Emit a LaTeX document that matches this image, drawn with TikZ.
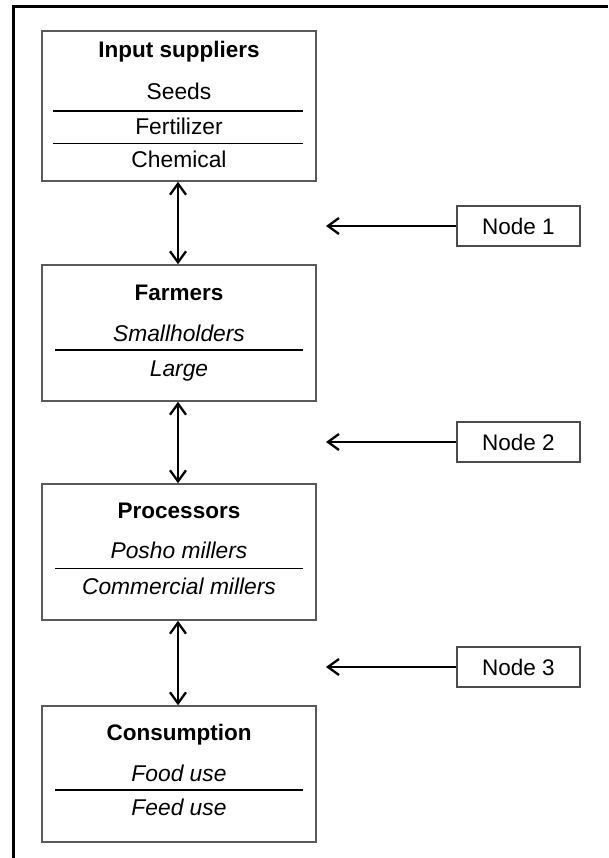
\documentclass[tikz,border=0pt]{standalone}
\usepackage{fontspec}
\setmainfont{Liberation Sans}
\usetikzlibrary{arrows.meta}
\begin{document}
\begin{tikzpicture}[x=1pt,y=-1pt,
  stage/.style={draw=black!65,line width=1.5pt,minimum width=274pt,inner sep=0pt},
  tag/.style={draw=black!70,line width=1.4pt,minimum width=123pt,minimum height=40pt,inner sep=0pt,font=\fontsize{22.5}{26}\selectfont},
  head/.style={anchor=base,font=\fontsize{22.5}{26}\selectfont\bfseries},
  item/.style={anchor=base,font=\fontsize{22.8}{26}\selectfont},
  itemi/.style={anchor=base,font=\fontsize{22.8}{26}\selectfont\itshape},
  heavy/.style={line width=2.5pt},
  light/.style={line width=1pt},
  barb/.tip={Straight Barb[length=11pt,width=16pt,line width=2.3pt]},
  link/.style={line width=2.5pt,barb-barb},
  point/.style={line width=2.5pt,-barb}]
\useasboundingbox (0,0) rectangle (608,858);
% frame
\draw[line width=3pt] (13,858) -- (13,7) -- (608,7);

% stages
\node[stage,minimum height=150pt] (b1) at (179,106) {};
\node[stage,minimum height=136pt] (b2) at (179,333) {};
\node[stage,minimum height=136pt] (b3) at (179,552) {};
\node[stage,minimum height=136pt] (b4) at (179,774) {};

\node[head] (t1) at (179,58) {Input suppliers};
\node[item] (s1a) at (179,100) {Seeds};
\node[item] (s1b) at (179,135) {Fertilizer};
\node[item] (s1c) at (179,168) {Chemical};
\draw[heavy] (53,111) -- (303,111);
\draw[light] (53,144) -- (303,144);

\node[head] (t2) at (179,300) {Farmers};
\node[itemi] (s2a) at (179,341) {Smallholders};
\node[itemi] (s2b) at (179,376) {Large};
\draw[heavy] (55,350) -- (303,350);

\node[head] (t3) at (179,518) {Processors};
\node[itemi] (s3a) at (179,558) {Posho millers};
\node[itemi] (s3b) at (179,594) {Commercial millers};
\draw[light] (55,568) -- (303,568);

\node[head] (t4) at (179,740) {Consumption};
\node[itemi] (s4a) at (179,781) {Food use};
\node[itemi] (s4b) at (179,815) {Feed use};
\draw[heavy] (55,790) -- (303,790);

% links between stages
\draw[link] ([xshift=-1pt]b1.south) -- ([xshift=-1pt]b2.north);
\draw[link] ([xshift=-1pt]b2.south) -- ([xshift=-1pt]b3.north);
\draw[link] ([xshift=-1pt]b3.south) -- ([xshift=-1pt]b4.north);

% node labels
\node[tag] (n1) at (518.5,226) {Node 1};
\node[tag] (n2) at (518.5,442) {Node 2};
\node[tag] (n3) at (518.5,667) {Node 3};
\coordinate (p1) at (326,226);
\coordinate (p2) at (326,442);
\coordinate (p3) at (326,667);
\draw[point] (n1.west) -- (p1);
\draw[point] (n2.west) -- (p2);
\draw[point] (n3.west) -- (p3);
\end{tikzpicture}
\end{document}
